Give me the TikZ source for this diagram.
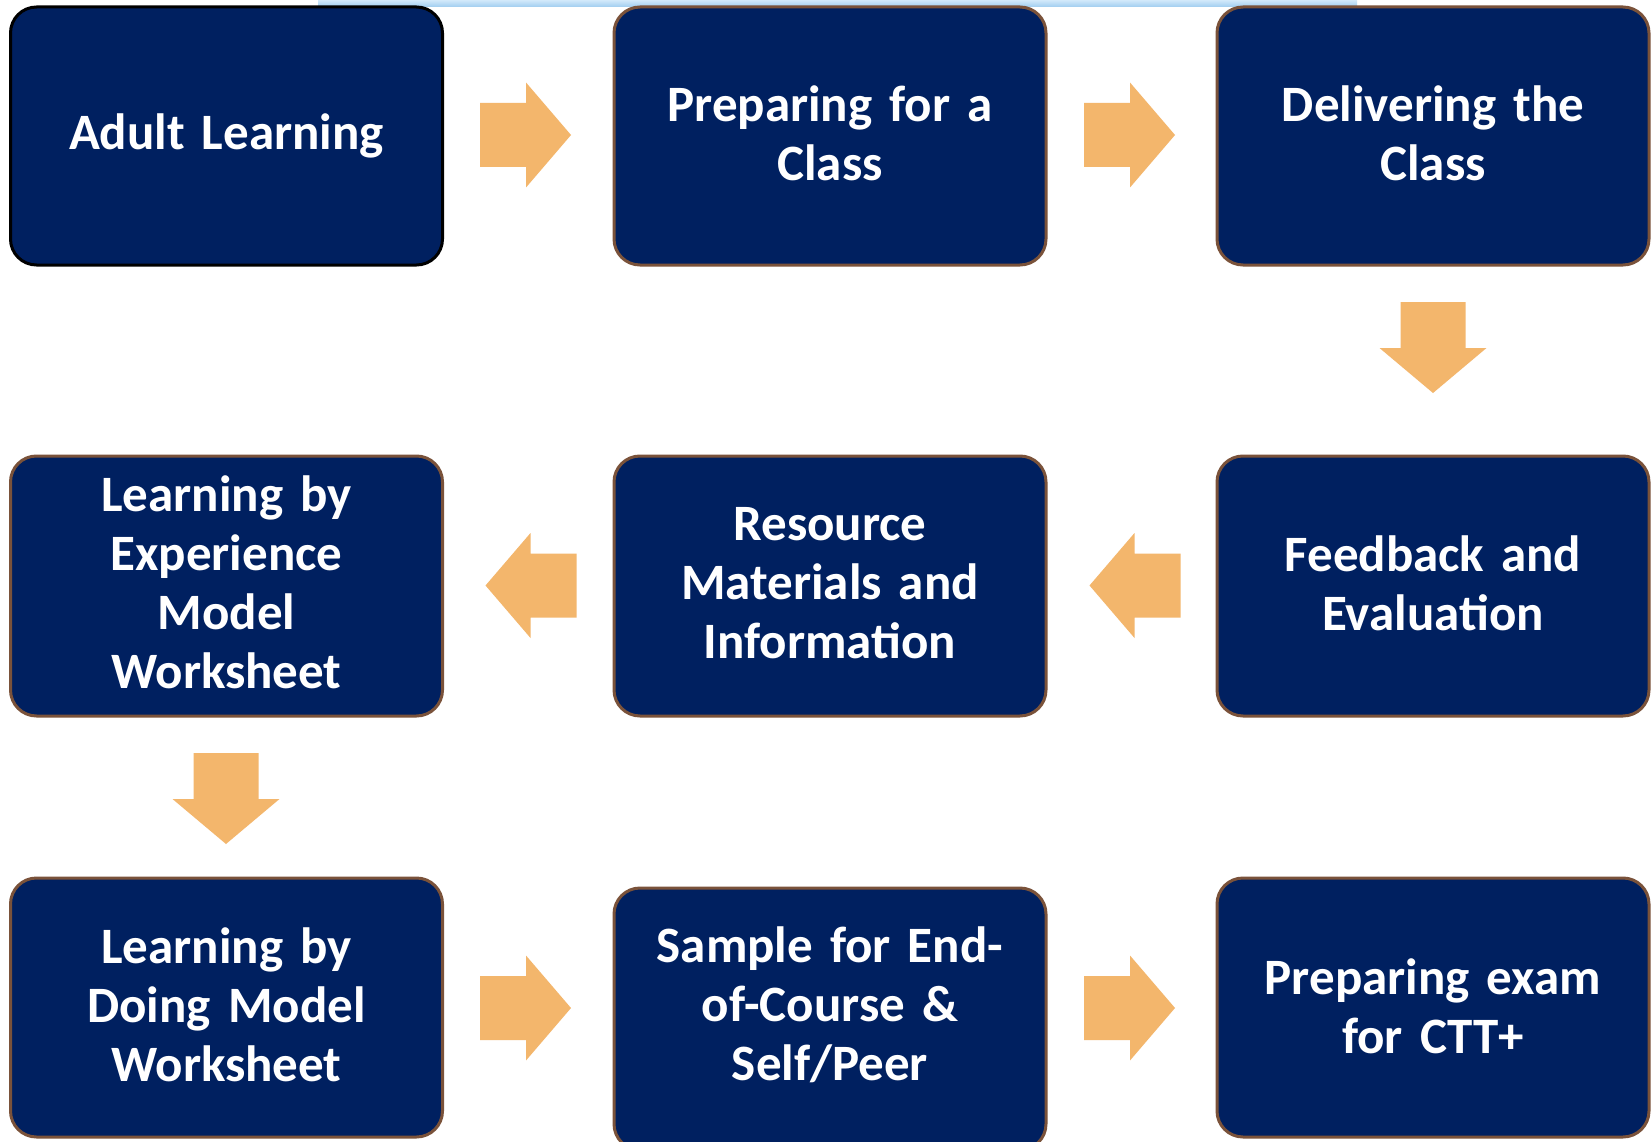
\documentclass[tikz,border=0pt]{standalone}
\usepackage{fontspec}
\setmainfont{Carlito}
\begin{document}
\begin{tikzpicture}[x=1pt,y=-1pt,
  boxtext/.style={text=white, align=center, text width=410pt, inner sep=0pt,
    font=\fontsize{51}{59}\selectfont\bfseries},
  boxstyle/.style={rectangle, rounded corners=26pt, fill=navy, draw=boxbrown, line width=3pt,
    minimum width=432pt, minimum height=258pt, inner sep=0pt},
  arrowfill/.style={fill=arroworange, draw=none},
  pics/rarr/.style={code={\fill[arrowfill] (-45.5,-32) -- (0.5,-32) -- (0.5,-52.5) -- (45.5,0) -- (0.5,52.5) -- (0.5,32) -- (-45.5,32) -- cycle;}},
  pics/larr/.style={code={\fill[arrowfill] (45.5,-32) -- (-0.5,-32) -- (-0.5,-52.5) -- (-45.5,0) -- (-0.5,52.5) -- (-0.5,32) -- (45.5,32) -- cycle;}},
  pics/darr/.style={code={\fill[arrowfill] (-32.5,-45.5) -- (-32.5,0.5) -- (-53.5,0.5) -- (0,45.5) -- (53.5,0.5) -- (32.5,0.5) -- (32.5,-45.5) -- cycle;}}
]
\definecolor{navy}{RGB}{0,32,96}
\definecolor{boxbrown}{RGB}{122,82,58}
\definecolor{arroworange}{RGB}{243,182,108}
\definecolor{striptop}{RGB}{210,233,250}
\definecolor{stripbot}{RGB}{160,205,240}
\useasboundingbox (0,0) rectangle (1652,1142);
\fill[white] (0,0) rectangle (1652,1142);
% top light-blue strip
\shade[top color=striptop, bottom color=stripbot] (318,0) rectangle (1357,7);
% boxes
\node[boxstyle, draw=black] (b1) at (226.5,136) {};
\node[boxstyle] (b2) at (830,136) {};
\node[boxstyle] (b3) at (1433,136) {};
\node[boxstyle, minimum height=260pt] (b4) at (1433,586) {};
\node[boxstyle, minimum height=260pt] (b5) at (830,586) {};
\node[boxstyle, minimum height=260pt] (b6) at (226.5,586) {};
\node[boxstyle, minimum height=259pt] (b7) at (226.5,1007.5) {};
\node[boxstyle, minimum height=262pt] (b8) at (830,1019) {};
\node[boxstyle, minimum height=259pt] (b9) at (1433,1007.5) {};
% texts
\node[boxtext] (t1) at (226.5,136) {Adult Learning};
\node[boxtext] (t2) at (830,133) {Preparing for a\\Class};
\node[boxtext] (t3) at (1433,133) {Delivering the\\Class};
\node[boxtext] (t4) at (1433,583) {Feedback and\\Evaluation};
\node[boxtext] (t5) at (830,583.5) {Resource\\Materials and\\Information};
\node[boxtext] (t6) at (226.5,582) {Learning by\\Experience\\Model\\Worksheet};
\node[boxtext] (t7) at (226.5,1004.5) {Learning by\\Doing Model\\Worksheet};
\node[boxtext] (t8) at (830,1005) {Sample for End-\\of-Course \&\\Self/Peer};
\node[boxtext] (t9) at (1433,1006) {Preparing exam\\for CTT+};
% arrows
\pic at (525.5,135) {rarr};
\pic at (1129.5,135) {rarr};
\pic at (1433,347.5) {darr};
\pic at (1135,585.5) {larr};
\pic at (531,585.5) {larr};
\pic at (226,798.5) {darr};
\pic at (525.5,1008) {rarr};
\pic at (1129.5,1008) {rarr};
\end{tikzpicture}
\end{document}
